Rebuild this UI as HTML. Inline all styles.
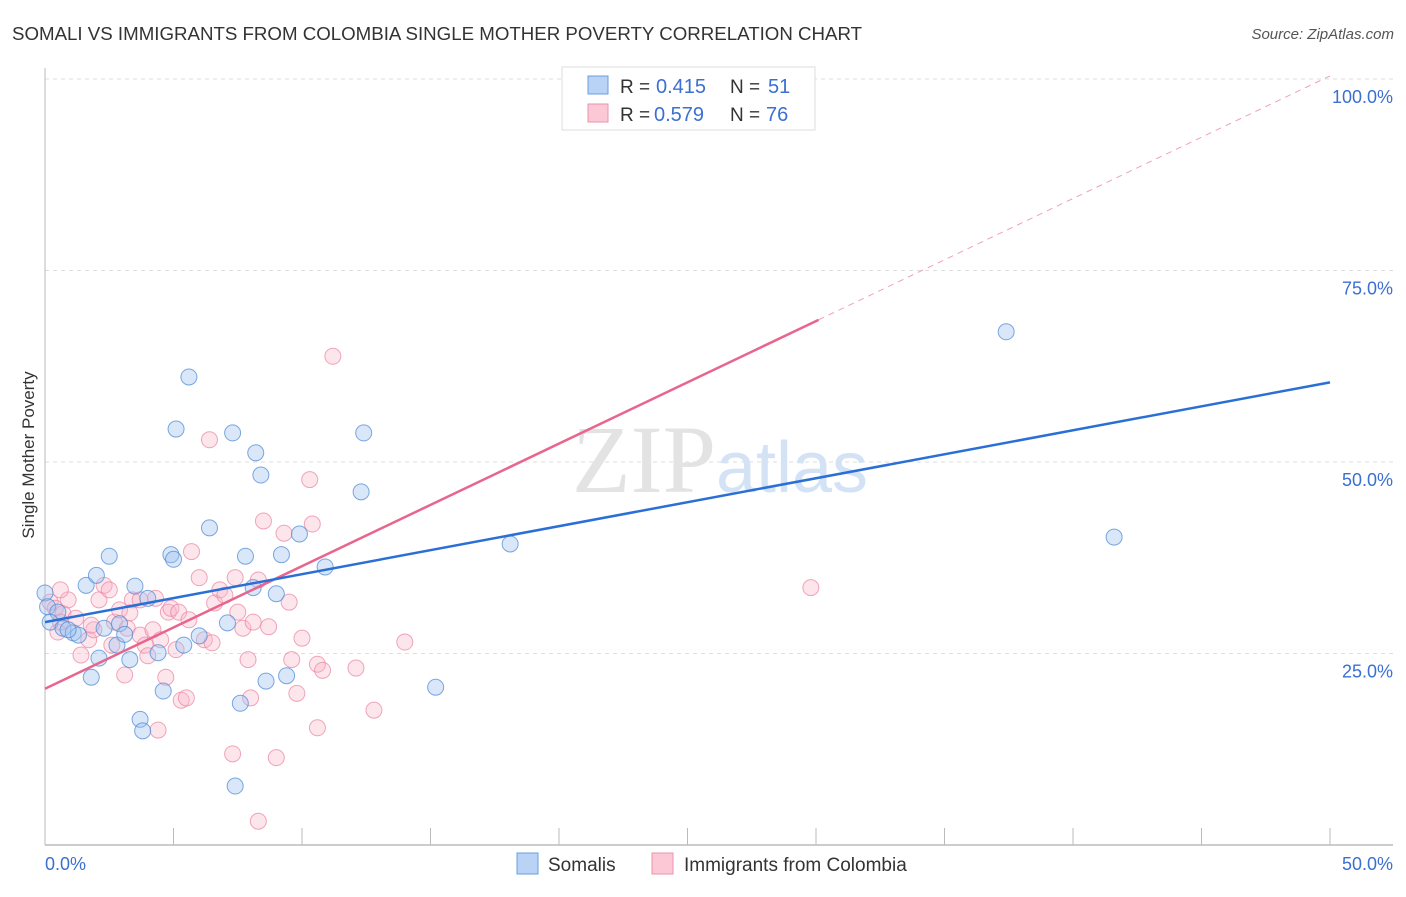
<!DOCTYPE html>
<html><head><meta charset="utf-8"><style>
body{margin:0;background:#fff;font-family:"Liberation Sans",sans-serif}
</style></head><body>
<svg id="c" width="1406" height="892" xmlns="http://www.w3.org/2000/svg" font-family="Liberation Sans, sans-serif">
<text x="12" y="40" font-size="18.7" fill="#333">SOMALI VS IMMIGRANTS FROM COLOMBIA SINGLE MOTHER POVERTY CORRELATION CHART</text>
<text x="1394" y="39" font-size="15" fill="#555" text-anchor="end" font-style="italic">Source: ZipAtlas.com</text>
<text x="34" y="455" font-size="17" fill="#333" text-anchor="middle" transform="rotate(-90 34 455)">Single Mother Poverty</text>
<g id="grid"></g>
<text x="720" y="492" font-size="96" fill="#e3e3e3" text-anchor="middle" font-family="Liberation Serif, serif">ZIP<tspan fill="#d3e3f5" font-family="Liberation Sans, sans-serif" font-size="72">atlas</tspan></text>
<g id="pts"></g>
<g id="lines"></g>
<g>
<rect x="562" y="67" width="253" height="63" fill="#fff" stroke="#ddd"/>
<rect x="588" y="76" width="20" height="18" fill="#b8d3f5" stroke="#6d9de0"/>
<text x="620" y="93" font-size="19" fill="#333">R =</text>
<text x="656" y="93" font-size="20" fill="#3b6fd1">0.415</text>
<text x="730" y="93" font-size="19" fill="#333">N =</text>
<text x="768" y="93" font-size="20" fill="#3b6fd1">51</text>
<rect x="588" y="104" width="20" height="18" fill="#fcc8d6" stroke="#ea93ad"/>
<text x="620" y="121" font-size="19" fill="#333">R =</text>
<text x="654" y="121" font-size="20" fill="#3b6fd1">0.579</text>
<text x="730" y="121" font-size="19" fill="#333">N =</text>
<text x="766" y="121" font-size="20" fill="#3b6fd1">76</text>
</g>
<g>
<rect x="517" y="853" width="21" height="21" fill="#b8d3f5" stroke="#6d9de0"/>
<text x="548" y="871" font-size="19" fill="#333">Somalis</text>
<rect x="652" y="853" width="21" height="21" fill="#fcc8d6" stroke="#ea93ad"/>
<text x="684" y="871" font-size="19" fill="#333">Immigrants from Colombia</text>
</g>
</svg>
<script>
const xTicks=["0.0%","50.0%"];
const yTicks=[25,50,75,100];
const blueX=[0.0,0.1,0.5,0.2,0.7,1.1,1.3,0.9,1.6,2.0,2.5,1.8,2.1,2.3,2.8,2.9,3.1,3.3,3.5,4.0,4.4,4.6,3.7,3.8,4.9,5.0,5.1,5.6,5.4,6.0,6.4,7.1,7.3,7.6,7.4,7.8,8.1,8.2,8.4,8.6,9.0,9.2,9.4,9.9,10.9,12.3,12.4,15.2,18.1,37.4,41.6];
const blueY=[32.9,31.1,30.4,29.1,28.3,27.7,27.4,28.1,33.9,35.2,37.7,21.9,24.4,28.3,26.1,28.9,27.5,24.2,33.8,32.2,25.1,20.1,16.4,14.9,37.9,37.3,54.3,61.1,26.1,27.3,41.4,29.0,53.8,18.5,7.7,37.7,33.6,51.2,48.3,21.4,32.8,37.9,22.1,40.6,36.3,46.1,53.8,20.6,39.3,67.0,40.2];
const pinkX=[0.2,0.4,0.5,0.7,0.9,0.6,1.2,1.4,1.7,1.9,2.1,2.3,2.6,2.7,2.9,3.1,3.2,3.4,3.7,3.9,4.0,4.2,4.3,4.5,4.7,4.8,4.9,5.2,5.3,5.5,5.6,5.7,6.0,6.2,6.4,6.5,6.6,6.8,7.4,7.5,7.7,7.9,8.0,8.1,8.3,8.5,8.7,9.0,9.3,9.5,9.6,9.8,10.0,10.3,10.4,10.6,10.8,10.6,11.2,12.1,12.8,14.0,8.3,7.3,4.4,26.3,27.8,29.8,3.3,1.8,2.5,3.7,0.6,5.1,7.0];
const pinkY=[31.7,30.9,27.8,30.2,32.0,29.1,29.6,24.8,26.8,28.1,32.0,33.9,26.1,29.1,30.7,22.2,28.3,32.0,27.4,26.1,24.7,28.1,32.2,26.8,21.9,30.4,30.9,30.4,18.9,19.2,29.4,38.3,34.9,26.8,52.9,26.4,31.6,33.3,34.9,30.4,28.3,24.2,19.2,29.1,34.6,42.3,28.5,11.4,40.7,31.7,24.2,19.8,27.0,47.7,41.9,23.6,22.8,15.3,63.8,23.1,17.6,26.5,3.1,11.9,15.0,95.2,99.9,33.6,30.3,28.7,33.3,32.0,33.3,25.5,32.6];
const blueLine=[29.1,60.4];
const pinkLine=[20.4,100.4];
const pinkSolidEnd=30.1;
const NS="http://www.w3.org/2000/svg";
const sx=v=>45+v*25.7, sy=v=>845-v*7.66;
function mk(t,a,p){const e=document.createElementNS(NS,t);for(const k in a)e.setAttribute(k,a[k]);p.appendChild(e);return e;}
const grid=document.getElementById('grid');
yTicks.forEach(v=>{
 const l=mk('line',{x1:45,x2:1393,y1:sy(v),y2:sy(v),stroke:'#ddd','stroke-dasharray':'4,4'},grid);
 
 
 const t=mk('text',{x:1393,y:sy(v)+24,'font-size':18,fill:'#3b6fd1','text-anchor':'end'},grid);
 t.textContent=v.toFixed(1)+'%';
 
 
});
const ax=mk('line',{x1:45,x2:45,y1:68,y2:845,stroke:'#bbb'},grid);


const bx=mk('line',{x1:45,x2:1393,y1:845,y2:845,stroke:'#bbb','stroke-width':1.5},grid);


for(let i=1;i<=10;i++){const tk=mk('line',{x1:sx(i*5),x2:sx(i*5),y1:828,y2:845,stroke:'#bbb'},grid);
 
 }
xTicks.forEach((s,i)=>{const t=mk('text',{x:i?1393:45,y:870,'font-size':18,fill:'#3b6fd1','text-anchor':i?'end':'start'},grid);t.textContent=s;
 
 });
const pts=document.getElementById('pts');
pinkX.forEach((x,i)=>{const c=mk('circle',{cx:sx(x),cy:sy(pinkY[i]),r:8,fill:'rgba(248,180,200,0.35)',stroke:'rgba(234,130,160,0.7)'},pts);
 
 });
blueX.forEach((x,i)=>{const c=mk('circle',{cx:sx(x),cy:sy(blueY[i]),r:8,fill:'rgba(160,195,240,0.4)',stroke:'rgba(80,140,215,0.75)'},pts);
 
 });
const lg=document.getElementById('lines');
const pl=v=>pinkLine[0]+(pinkLine[1]-pinkLine[0])*v/50;
const d=mk('line',{x1:sx(pinkSolidEnd),y1:sy(pl(pinkSolidEnd)),x2:sx(50),y2:sy(pl(50)),stroke:'#f0a0b8','stroke-dasharray':'6,5'},lg);


const p=mk('line',{x1:sx(0),y1:sy(pl(0)),x2:sx(pinkSolidEnd),y2:sy(pl(pinkSolidEnd)),stroke:'#e8658e','stroke-width':2.5},lg);


const b=mk('line',{x1:sx(0),y1:sy(blueLine[0]),x2:sx(50),y2:sy(blueLine[1]),stroke:'#2a6fd6','stroke-width':2.5},lg);


</script>
</body></html>
